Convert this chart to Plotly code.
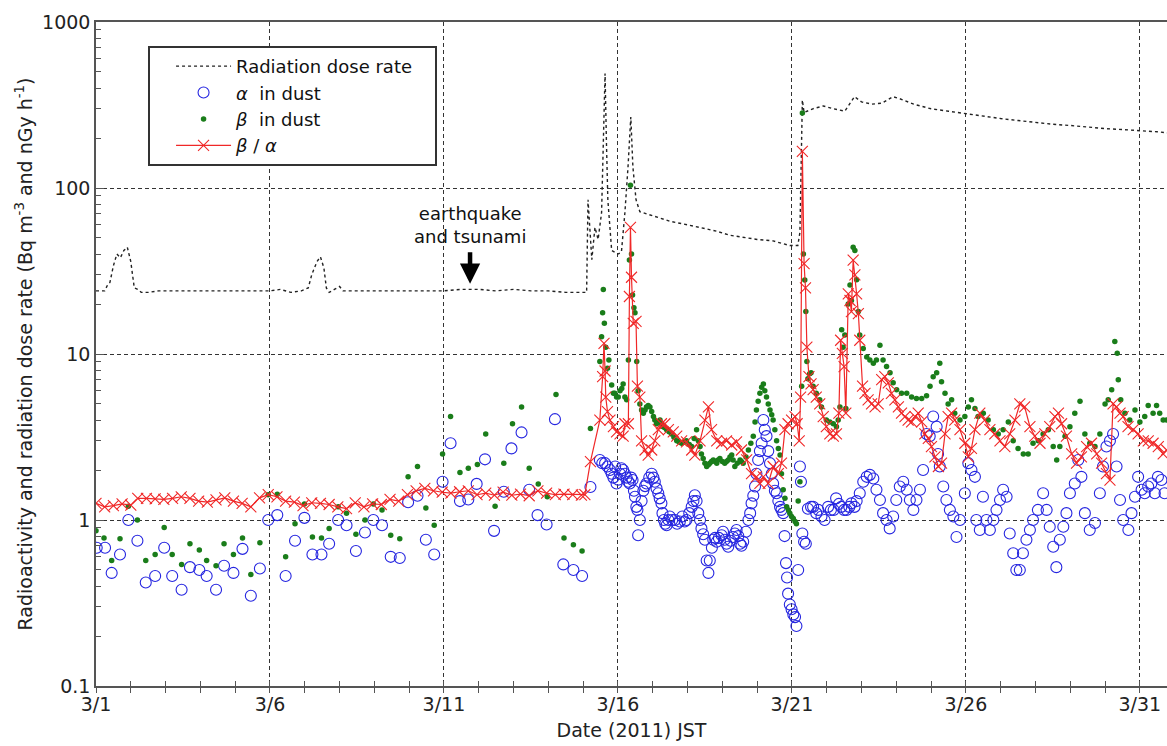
import numpy as np
import pandas as pd
import plotly.graph_objects as go

# ---------------- data (days since 2011-03-01 00:00 JST) ----------------
dose_day = [0.0, 0.25, 0.33, 0.4, 0.5, 0.6, 0.7, 0.8, 0.9, 1.0, 1.1, 1.2, 1.3, 1.5, 1.8, 2.2, 2.6, 3.0, 3.5,
            4.0, 4.5, 5.0, 5.3, 5.6, 5.9, 6.1, 6.2, 6.35, 6.45, 6.55, 6.62, 6.7, 6.85, 7.0, 7.1, 7.5, 8.0,
            8.5, 9.0, 9.5, 10.0, 10.5, 11.0, 11.5, 12.0, 12.5, 13.0, 13.5, 14.0, 14.1, 14.14, 14.2, 14.25,
            14.34, 14.43, 14.53, 14.57, 14.63, 14.67, 14.71, 14.82, 15.0, 15.1, 15.2, 15.29, 15.37, 15.43,
            15.52, 15.63, 16.0, 16.5, 17.0, 17.5, 17.83, 18.2, 18.7, 19.0, 19.46, 19.94, 20.17, 20.23, 20.3,
            20.35, 20.6, 20.9, 21.2, 21.52, 21.8, 22.0, 22.3, 22.6, 22.9, 23.1, 23.5, 24.0, 24.5, 25.0, 25.5,
            26.0, 26.5, 27.0, 27.5, 28.0, 28.5, 29.0, 29.5, 30.0, 30.5, 30.8]
dose_val = [24, 24, 26, 27, 34, 40, 38, 42, 44, 36, 25, 24.5, 23.5, 23.5, 24, 24, 24, 24, 24,
            24, 24, 24, 24.5, 23.5, 24, 25, 30, 36, 38.5, 33, 25, 23.5, 24.5, 25.5, 24, 24, 24,
            24, 24, 24, 24, 24.5, 24.5, 24, 24.5, 24, 24, 23.5, 23.5, 23.5, 85, 54, 37,
            58, 49, 71, 187, 490, 187, 85, 42, 40, 41, 71, 134, 268, 134,
            85, 72, 68, 63, 60, 57, 55, 52, 50, 49, 48, 45, 45, 54, 339,
            285, 300, 312, 300, 290, 355, 330, 320, 325, 355, 345, 320, 300, 290, 280, 270,
            262, 255, 248, 242, 238, 232, 228, 225, 222, 218, 215]

alpha_day = [0.02, 0.26, 0.45, 0.69, 0.93, 1.19, 1.43, 1.70, 1.96, 2.19, 2.46, 2.70, 2.97, 3.18, 3.45, 3.68,
             3.95, 4.21, 4.45, 4.71, 4.95, 5.21, 5.45, 5.72, 5.99, 6.22, 6.48, 6.70, 6.96, 7.20, 7.47, 7.73,
             7.97, 8.22, 8.47, 8.73, 8.97, 9.24, 9.48, 9.72, 9.96, 10.19, 10.46, 10.70, 10.94, 11.18, 11.44,
             11.72, 11.94, 12.23, 12.45, 12.69, 12.95, 13.19, 13.43, 13.72, 13.97, 14.21,
             14.48, 14.55, 14.63, 14.70, 14.77, 14.82, 14.87, 14.92, 14.96, 15.01, 15.06, 15.10, 15.15, 15.20,
             15.25, 15.30, 15.34, 15.38, 15.42, 15.46, 15.49, 15.53, 15.56, 15.58, 15.63, 15.68, 15.73, 15.78,
             15.82, 15.90, 15.97, 16.02, 16.06, 16.11, 16.16, 16.20, 16.25, 16.28, 16.32, 16.36, 16.40, 16.45,
             16.49, 16.56, 16.64, 16.70, 16.78, 16.85, 16.92, 16.97, 17.05, 17.12, 17.17, 17.21, 17.26, 17.31,
             17.36, 17.40, 17.45, 17.50, 17.55, 17.60, 17.64, 17.70, 17.74, 17.79, 17.84, 17.90, 17.98, 18.02,
             18.07, 18.12, 18.17, 18.24, 18.31, 18.36, 18.41, 18.46, 18.51, 18.55, 18.60, 18.68, 18.75, 18.80,
             18.84, 18.89, 18.94, 18.98, 19.03, 19.08, 19.13, 19.18, 19.22, 19.27, 19.32, 19.37, 19.42, 19.46,
             19.51, 19.56, 19.61, 19.66, 19.70, 19.75, 19.79, 19.83, 19.86, 19.89, 19.94, 19.99, 20.04, 20.09,
             20.13, 20.18, 20.23, 20.26, 20.30, 20.35, 20.40, 20.46, 20.55, 20.61, 20.70, 20.76, 20.85, 20.94,
             21.04, 21.12, 21.20, 21.27, 21.35, 21.42, 21.50, 21.57, 21.65, 21.71, 21.80, 21.86, 21.95, 22.05,
             22.15, 22.24, 22.34, 22.43, 22.53, 22.62, 22.72, 22.81, 22.91, 23.00, 23.10, 23.20, 23.30, 23.39,
             23.49, 23.58, 23.68, 23.77, 23.87, 23.96, 24.06, 24.16, 24.20, 24.25, 24.35, 24.44, 24.54, 24.64,
             24.73, 24.83, 24.97, 25.07, 25.16, 25.26, 25.30, 25.40, 25.49, 25.59, 25.69, 25.79, 25.88, 25.98,
             26.07, 26.17, 26.26, 26.36, 26.45, 26.55, 26.64, 26.74, 26.84, 26.93, 27.07, 27.22, 27.32, 27.41,
             27.51, 27.60, 27.70, 27.80, 27.89, 27.99, 28.13, 28.23, 28.32, 28.42, 28.56, 28.71, 28.85, 28.94,
             29.04, 29.14, 29.23, 29.33, 29.43, 29.52, 29.67, 29.76, 29.86, 29.95, 30.05, 30.14, 30.24, 30.33,
             30.43, 30.52, 30.62, 30.71]
alpha_val = [0.68, 0.68, 0.48, 0.62, 1.0, 0.75, 0.42, 0.46, 0.68, 0.46, 0.38, 0.52, 0.50, 0.46, 0.38, 0.53,
             0.48, 0.67, 0.35, 0.51, 1.0, 1.07, 0.46, 0.75, 1.03, 0.62, 0.62, 0.72, 1.0, 0.93, 0.65, 0.84,
             1.0, 0.93, 0.60, 0.59, 1.28, 1.40, 0.76, 0.62, 1.70, 2.9, 1.3, 1.33, 1.65, 2.32, 0.86,
             1.48, 2.7, 3.37, 1.52, 1.07, 0.94, 4.05, 0.54, 0.50, 0.46, 1.58,
             2.3, 2.2, 2.2, 2.1, 2.0, 1.9, 1.8, 2.1, 1.66, 1.75, 1.9, 2.05, 2.0, 1.9,
             1.8, 1.7, 1.66, 1.8, 1.74, 1.5, 1.38, 1.2, 1.15, 0.81, 1.0, 1.3, 1.5, 1.6,
             1.66, 1.8, 1.9, 1.8, 1.7, 1.55, 1.45, 1.35, 1.26, 1.1, 1.0, 0.95, 0.93, 1.0,
             1.05, 1.0, 1.0, 0.95, 0.98, 1.05, 0.98, 1.0, 1.1, 1.2, 1.3, 1.41, 1.3, 1.1,
             1.0, 0.89, 0.82, 0.76, 0.57, 0.48, 0.57, 0.68, 0.76, 0.78, 0.74, 0.78, 0.81, 0.85,
             0.76, 0.72, 0.69, 0.75, 0.79, 0.83, 0.87, 0.8, 0.72, 0.7, 0.74, 0.85, 1.0, 1.1,
             1.26, 1.4, 1.59, 1.9, 2.3, 2.6, 2.9, 4.0, 3.5, 3.2, 2.6, 2.2, 1.9, 1.66,
             1.5, 1.45, 1.3, 1.2, 1.15, 1.1, 0.8, 0.55, 0.45, 0.36, 0.31, 0.29, 0.27, 0.26,
             0.23, 0.5, 2.1, 1.7, 0.83, 0.74, 0.72, 1.17, 1.2, 1.2, 1.1, 1.15, 1.05, 1.0,
             1.2, 1.15, 1.15, 1.35, 1.25, 1.2, 1.15, 1.15, 1.2, 1.26, 1.2, 1.3, 1.45, 1.7,
             1.82, 1.87, 1.78, 1.52, 1.32, 1.1, 1.0, 0.89, 1.05, 1.32, 1.59, 1.7, 1.52, 1.32,
             1.15, 1.32, 1.52, 2.0, 3.3, 3.2, 4.2, 3.65, 2.5, 2.1, 1.59, 1.32, 1.15, 1.05,
             0.79, 1.0, 1.45, 2.2, 2.0, 1.82, 1.0, 0.87, 1.38, 1.0, 0.87, 1.0, 1.15, 1.32,
             1.52, 1.38, 0.83, 0.63, 0.5, 0.5, 0.63, 0.76, 0.87, 1.0, 1.15, 1.45, 1.15, 0.91,
             0.69, 0.52, 0.76, 0.91, 1.1, 1.45, 1.66, 2.3, 1.82, 1.1, 0.87, 0.96, 1.45, 2.1,
             2.77, 3.0, 3.3, 2.1, 1.32, 1.0, 0.87, 1.1, 1.38, 1.82, 1.52, 1.45, 1.59, 1.66,
             1.45, 1.82, 1.74, 1.45]

beta_day = [0.00, 0.23, 0.45, 0.69, 0.93, 1.19, 1.43, 1.70, 1.96, 2.19, 2.46, 2.70, 2.97, 3.18, 3.45, 3.68,
            3.95, 4.21, 4.45, 4.71, 4.95, 5.21, 5.45, 5.72, 5.99, 6.22, 6.48, 6.70, 6.96, 7.20, 7.47, 7.73,
            7.97, 8.22, 8.47, 8.73, 8.97, 9.24, 9.48, 9.72, 9.96, 10.19, 10.46, 10.70, 10.96, 11.2, 11.47,
            11.72, 11.97, 12.23, 12.45, 12.71, 12.97, 13.22, 13.45, 13.72, 13.97, 14.21,
            14.48, 14.53, 14.56, 14.58, 14.61, 14.65, 14.70, 14.74, 14.82, 14.87, 14.91, 14.96, 15.01, 15.06,
            15.11, 15.15, 15.20, 15.25, 15.30, 15.33, 15.36, 15.39, 15.42, 15.46, 15.49, 15.54, 15.58, 15.63,
            15.68, 15.73, 15.78, 15.82, 15.87, 15.92, 15.97, 16.02, 16.06, 16.11, 16.16, 16.21, 16.25, 16.30,
            16.35, 16.40, 16.47, 16.54, 16.61, 16.69, 16.76, 16.83, 16.90, 16.97, 17.05, 17.12, 17.19, 17.26,
            17.31, 17.36, 17.40, 17.45, 17.50, 17.55, 17.60, 17.64, 17.69, 17.74, 17.79, 17.84, 17.88, 17.93,
            18.00, 18.07, 18.12, 18.17, 18.22, 18.27, 18.31, 18.36, 18.43, 18.51, 18.55, 18.60, 18.68, 18.75,
            18.82, 18.89, 18.94, 18.98, 19.03, 19.08, 19.13, 19.18, 19.22, 19.27, 19.32, 19.37, 19.42, 19.46,
            19.51, 19.56, 19.61, 19.66, 19.70, 19.75, 19.80, 19.85, 19.90, 19.94, 19.99, 20.04, 20.09, 20.13,
            20.18, 20.23, 20.28, 20.30, 20.33, 20.37, 20.40, 20.43, 20.46, 20.51, 20.55, 20.61, 20.70, 20.80,
            20.85, 20.99, 21.09, 21.19, 21.28, 21.33, 21.38, 21.43, 21.47, 21.52, 21.55, 21.62, 21.67, 21.71,
            21.76, 21.81, 21.86, 21.91, 21.95, 22.05, 22.15, 22.24, 22.34, 22.43, 22.53, 22.62, 22.72, 22.82,
            22.91, 23.01, 23.15, 23.30, 23.44, 23.58, 23.73, 23.87, 23.97, 24.06, 24.16, 24.25, 24.30, 24.40,
            24.49, 24.59, 24.68, 24.83, 24.97, 25.07, 25.16, 25.26, 25.35, 25.50, 25.64, 25.79, 25.93, 26.07,
            26.22, 26.36, 26.50, 26.65, 26.79, 26.93, 27.08, 27.22, 27.37, 27.51, 27.61, 27.70, 27.85, 27.99,
            28.13, 28.28, 28.42, 28.56, 28.71, 28.85, 29.00, 29.09, 29.19, 29.28, 29.35, 29.38, 29.45, 29.57,
            29.71, 29.86, 30.00, 30.14, 30.24, 30.38, 30.48, 30.57, 30.67, 30.77]
beta_val = [0.86, 0.78, 0.57, 0.77, 1.21, 1.0, 0.57, 0.62, 0.90, 0.62, 0.54, 0.72, 0.66, 0.57, 0.53, 0.72,
            0.62, 0.78, 0.47, 0.73, 1.42, 1.43, 0.60, 0.95, 1.25, 0.79, 0.78, 0.89, 1.2, 1.1, 0.82, 1.0,
            1.25, 1.15, 0.81, 0.77, 1.82, 2.1, 1.18, 0.93, 2.5, 4.2, 1.93, 2.05, 2.16, 3.3, 1.21,
            2.2, 3.8, 4.8, 2.05, 1.65, 1.38, 5.7, 0.78, 0.71, 0.65, 3.56,
            9.0, 12.7, 17.7, 24.5, 15.3, 11.0, 8.2, 9.2, 6.5, 5.8, 5.8, 5.5, 5.5, 6.0,
            6.2, 6.6, 5.5, 5.3, 9.2, 36.8, 104, 40, 22.7, 19, 17.7, 9.0, 6.0, 5.0,
            4.6, 4.4, 4.6, 4.8, 4.9, 4.8, 4.5, 4.2, 4.0, 3.8, 3.9, 4.0, 3.8, 3.65,
            3.6, 3.5, 3.4, 3.3, 3.15, 3.0, 2.95, 2.9, 2.95, 3.0, 2.85, 2.77, 3.1, 3.5,
            3.0, 2.77, 2.5, 2.35, 2.2, 2.1, 2.15, 2.2, 2.25, 2.3, 2.25, 2.2, 2.3, 2.35,
            2.25, 2.2, 2.25, 2.3, 2.4, 2.46, 2.3, 2.1, 2.2, 2.3, 2.25, 2.2, 2.4, 2.64,
            2.9, 3.2, 3.9, 4.6, 5.2, 5.8, 6.3, 6.6, 6.0, 5.5, 5.0, 4.6, 4.3, 4.0,
            3.5, 3.0, 2.7, 2.46, 1.9, 1.52, 1.35, 1.2, 1.15, 1.1, 1.05, 1.02, 0.98, 0.95,
            1.3, 1.7, 6.4, 283, 40, 27.9, 18, 9.0, 7.1, 7.6, 7.7, 6.4, 5.8, 5.3,
            4.8, 4.0, 3.9, 3.8, 3.65, 4.0, 4.8, 14, 11, 13, 4.7, 20, 26, 21,
            44, 42, 28, 18, 13, 10.8, 9.6, 9.2, 8.8, 9.2, 11.3, 9.2, 8.4, 7.7,
            6.7, 6.1, 5.8, 5.8, 5.5, 5.4, 5.4, 5.6, 6.4, 7.3, 7.7, 8.8, 6.8, 5.8,
            5.0, 5.3, 4.4, 4.0, 4.2, 4.8, 5.3, 4.7, 4.2, 4.4, 4.0, 3.5, 3.3, 3.5,
            3.9, 3.0, 2.7, 2.5, 2.5, 2.9, 3.0, 3.3, 3.5, 2.77, 2.3, 2.77, 3.2, 3.65,
            4.4, 5.2, 3.3, 2.9, 2.77, 3.3, 5.0, 5.3, 6.1, 11.9, 10.1, 7.0, 5.3, 4.4,
            4.0, 4.6, 3.9, 4.2, 4.9, 4.4, 4.9, 4.4, 4.0, 4.0]

ratio_day = [0.0, 0.25, 0.5, 0.75, 1.0, 1.2, 1.45, 1.7, 1.95, 2.2, 2.45, 2.7, 2.95, 3.2, 3.45, 3.7, 3.95,
             4.2, 4.45, 4.7, 4.95, 5.2, 5.45, 5.7, 5.95, 6.2, 6.45, 6.7, 6.95, 7.2, 7.45, 7.7, 7.95, 8.2,
             8.45, 8.7, 8.95, 9.2, 9.45, 9.7, 9.95, 10.2, 10.45, 10.7, 10.95, 11.2, 11.45, 11.7, 11.95,
             12.2, 12.45, 12.7, 12.95, 13.2, 13.45, 13.7, 13.95, 14.05, 14.21,
             14.48, 14.56, 14.60, 14.63, 14.65, 14.70, 14.77, 14.87, 14.96, 15.06, 15.15, 15.20, 15.30, 15.33,
             15.36, 15.39, 15.44, 15.52, 15.56, 15.63, 15.68, 15.78, 15.87, 15.97, 16.06, 16.16, 16.25, 16.35,
             16.45, 16.59, 16.69, 16.83, 16.97, 17.12, 17.21, 17.36, 17.50, 17.60, 17.69, 17.84, 17.98, 18.12,
             18.27, 18.41, 18.55, 18.70, 18.84, 18.98, 19.08, 19.18, 19.32, 19.46, 19.61, 19.70, 19.80, 19.89,
             19.99, 20.09, 20.15, 20.21, 20.25, 20.30, 20.35, 20.39, 20.43, 20.49, 20.55, 20.61, 20.70, 20.80,
             20.90, 20.99, 21.09, 21.19, 21.28, 21.35, 21.40, 21.45, 21.50, 21.55, 21.62, 21.67, 21.71, 21.76,
             21.81, 21.86, 21.91, 21.95, 22.03, 22.10, 22.19, 22.29, 22.39, 22.48, 22.58, 22.67, 22.77, 22.86,
             22.96, 23.06, 23.15, 23.25, 23.34, 23.44, 23.54, 23.63, 23.73, 23.82, 23.92, 24.01, 24.11, 24.21,
             24.30, 24.40, 24.49, 24.59, 24.68, 24.83, 24.97, 25.07, 25.16, 25.26, 25.40, 25.54, 25.69, 25.83,
             25.98, 26.12, 26.26, 26.41, 26.55, 26.69, 26.84, 26.98, 27.13, 27.27, 27.41, 27.56, 27.66, 27.75,
             27.89, 28.04, 28.18, 28.32, 28.47, 28.61, 28.76, 28.90, 29.04, 29.14, 29.23, 29.33, 29.43, 29.52,
             29.66, 29.81, 29.95, 30.10, 30.24, 30.38, 30.53, 30.67, 30.77]
ratio_val = [1.26, 1.2, 1.22, 1.25, 1.23, 1.35, 1.35, 1.34, 1.33, 1.35, 1.38, 1.35, 1.3, 1.28, 1.32, 1.36, 1.3,
             1.26, 1.2, 1.36, 1.42, 1.38, 1.3, 1.28, 1.22, 1.27, 1.26, 1.24, 1.2, 1.17, 1.27, 1.2, 1.25, 1.24,
             1.33, 1.3, 1.42, 1.5, 1.55, 1.5, 1.47, 1.45, 1.48, 1.5, 1.42, 1.45, 1.41, 1.47, 1.41,
             1.43, 1.4, 1.5, 1.45, 1.42, 1.43, 1.42, 1.41, 1.42, 2.25,
             4.0, 7.3, 11.6, 7.9, 5.5, 4.5, 4.0, 3.65, 3.4, 3.3, 3.2, 3.8, 3.8, 22.2,
             58, 29, 15.3, 15.7, 6.4, 5.5, 3.0, 2.64, 2.46, 2.64, 3.0, 3.5, 3.8, 3.8,
             3.5, 3.4, 3.2, 3.0, 2.96, 2.64, 2.46, 3.0, 4.0, 4.8, 3.5, 3.0, 2.9, 3.0,
             2.83, 2.96, 2.64, 2.3, 1.9, 1.82, 1.66, 1.82, 1.66, 2.1, 1.9, 2.2, 3.5, 3.8,
             4.0, 4.2, 3.8, 3.0, 5.5, 166, 35, 25, 11, 7.3, 6.6, 6.1, 5.5, 5.0,
             4.2, 3.65, 3.3, 3.2, 3.3, 4.4, 12.1, 10.1, 8.4, 4.4, 23, 21, 18, 36.8,
             30, 23, 17.5, 12.1, 6.4, 5.8, 5.3, 5.0, 4.8, 5.0, 7.0, 7.3, 6.7, 5.8,
             5.3, 4.8, 4.4, 4.2, 4.0, 3.9, 4.2, 4.4, 3.9, 3.3, 3.1, 2.77, 2.4, 2.1,
             2.2, 3.3, 4.2, 4.4, 4.0, 3.5, 2.9, 2.4, 2.7, 3.5, 4.4, 4.0, 3.5, 3.3,
             3.0, 2.77, 3.3, 4.0, 5.0, 4.8, 3.65, 3.2, 2.9, 3.3, 3.65, 4.2, 4.4, 3.8,
             3.2, 2.5, 2.2, 2.4, 2.77, 2.9, 2.5, 2.2, 1.9, 1.74, 5.0, 4.8, 4.4, 4.2,
             3.65, 3.5, 3.3, 3.0, 3.0, 2.9, 2.77, 2.5, 2.64]

tick_days = [0, 5, 10, 15, 20, 25, 30]
tick_text = ["3/1", "3/6", "3/11", "3/16", "3/21", "3/26", "3/31"]
ytick_vals = [0.1, 1, 10, 100, 1000]
ytick_text = ["0.1", "1", "10", "100", "1000"]
yminor_vals = [0.2, 0.3, 0.4, 0.5, 0.6, 0.7, 0.8, 0.9, 2, 3, 4, 5, 6, 7, 8, 9,
               20, 30, 40, 50, 60, 70, 80, 90, 200, 300, 400, 500, 600, 700, 800, 900]
quake_day = 10.75
quake_label_day = 10.75

# ---------------- helpers ----------------
base = pd.Timestamp("2011-03-01 00:00")


def to_dt(days):
    return base + pd.to_timedelta(np.asarray(days, dtype=float), unit="D")


x_start = base
x_end = base + pd.Timedelta(days=30.78)

FONT = "DejaVu Sans"
BLUE = "#2626e0"
GREEN = "#1a7d1a"
RED = "#f02828"

fig = go.Figure()

fig.add_trace(go.Scatter(
    x=to_dt(dose_day), y=dose_val, mode="lines", name="Radiation dose rate&nbsp;&nbsp;&nbsp;",
    line=dict(color="#222222", width=1.4, dash="3px,3px"), legendgroup="a"))

fig.add_trace(go.Scatter(
    x=to_dt(alpha_day), y=alpha_val, mode="markers", name="<i>α</i>  in dust",
    marker=dict(symbol="circle-open", size=11, color=BLUE, line=dict(width=1.1, color=BLUE)),
    legendgroup="b"))

fig.add_trace(go.Scatter(
    x=to_dt(beta_day), y=beta_val, mode="markers", name="<i>β</i>  in dust",
    marker=dict(symbol="circle", size=5.5, color=GREEN), legendgroup="c"))

fig.add_trace(go.Scatter(
    x=to_dt(ratio_day), y=ratio_val, mode="lines+markers", name="<i>β</i> / <i>α</i>",
    line=dict(color=RED, width=1.2),
    marker=dict(symbol="x-thin-open", size=11, color=RED, line=dict(width=1.1, color=RED)),
    legendgroup="d"))

# helper trace for inside (crossing) x ticks
fig.add_trace(go.Scatter(x=[], y=[], xaxis="x2", yaxis="y", showlegend=False, hoverinfo="skip"))

axis_col = "#555555"
grid_col = "#333333"

fig.update_layout(
    width=1167, height=746,
    margin=dict(l=96, r=0, t=22, b=60),
    paper_bgcolor="white", plot_bgcolor="white",
    font=dict(family=FONT, size=18, color="#111111"),
    showlegend=True,
    legend=dict(
        x=0.0486, y=0.964, xanchor="left", yanchor="top",
        bgcolor="white", bordercolor="#333333", borderwidth=2,
        font=dict(family=FONT, size=18, color="#111111"),
        itemwidth=55, tracegroupgap=0, indentation=21,
    ),
    xaxis=dict(
        type="date", range=[x_start, x_end],
        tickmode="array", tickvals=to_dt(tick_days), ticktext=tick_text,
        ticks="outside", ticklen=5, tickcolor=axis_col, tickwidth=1,
        minor=dict(dtick=86400000, ticks="outside", ticklen=5, tickcolor=axis_col, tickwidth=1, showgrid=False),
        showgrid=True, gridcolor=grid_col, griddash="4px,3px", gridwidth=1.3,
        showline=True, linecolor=axis_col, linewidth=1.5, mirror=True,
        tickfont=dict(family=FONT, size=19, color="#222222"), ticklabelstandoff=-5,
        title=dict(text="Date (2011) JST", font=dict(family=FONT, size=19, color="#222222"), standoff=10),
        zeroline=False, automargin=False,
    ),
    xaxis2=dict(
        type="date", overlaying="x", matches="x", anchor="y", side="bottom",
        range=[x_start, x_end],
        tickmode="array", tickvals=to_dt(tick_days), ticktext=tick_text, showticklabels=False,
        ticks="inside", ticklen=5, tickcolor=axis_col, tickwidth=1,
        minor=dict(dtick=86400000, ticks="inside", ticklen=5, tickcolor=axis_col, tickwidth=1, showgrid=False),
        showgrid=False, showline=False, zeroline=False,
    ),
    yaxis=dict(
        type="log", range=[-1, 3],
        tickmode="array", tickvals=ytick_vals, ticktext=ytick_text,
        ticks="inside", ticklen=8, tickcolor=axis_col, tickwidth=1,
        minor=dict(tickmode="array", tickvals=yminor_vals, ticks="inside", ticklen=5,
                   tickcolor=axis_col, tickwidth=1, showgrid=False),
        showgrid=True, gridcolor=grid_col, griddash="4px,3px", gridwidth=1.3,
        showline=True, linecolor=axis_col, linewidth=1.5, mirror=False,
        tickfont=dict(family=FONT, size=19, color="#222222"),
        title=dict(text="Radioactivity and radiation dose rate (Bq m<sup>-3</sup> and nGy h<sup>-1</sup>)",
                   font=dict(family=FONT, size=19, color="#222222"), standoff=4),
        zeroline=False, automargin=False,
    ),
)

# earthquake annotation
fig.add_annotation(
    x=to_dt([quake_label_day])[0], y=np.log10(60), xref="x", yref="y",
    text="earthquake<br>and tsunami", showarrow=False,
    font=dict(family=FONT, size=18, color="#111111"), align="center",
    xanchor="center", yanchor="middle")
fig.add_annotation(
    x=to_dt([quake_day])[0], y=np.log10(26.5), xref="x", yref="y",
    text="", showarrow=True, ax=0, ay=-33, axref="pixel", ayref="pixel",
    arrowhead=2, arrowsize=0.9, arrowwidth=4.5, arrowcolor="#000000")

fig.write_html("out.html")
